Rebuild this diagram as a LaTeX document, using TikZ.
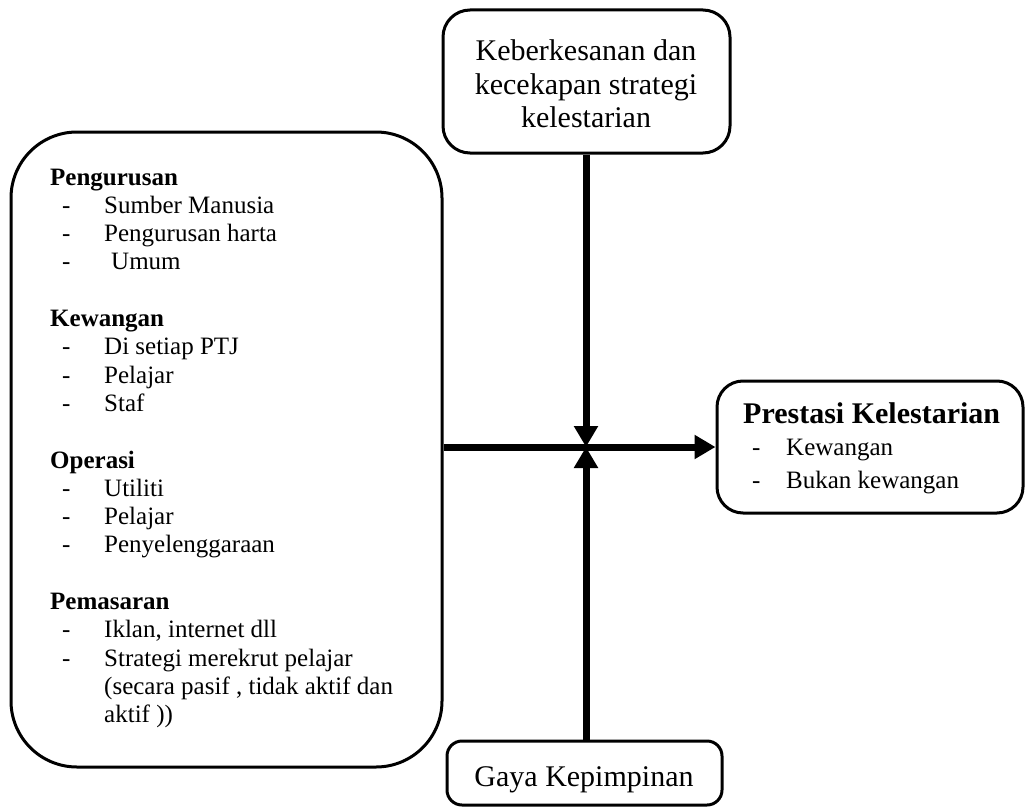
\documentclass[tikz,border=0pt]{standalone}
\usepackage{fontspec}
\setmainfont{Liberation Serif}
\usetikzlibrary{arrows.meta}
\begin{document}
\begin{tikzpicture}[x=1pt,y=-1pt,
  box/.style={draw, line width=3pt, inner sep=0pt, rectangle},
  link/.style={line width=7pt, -{Triangle[length=21pt,width=23pt]}},
  txt/.style={anchor=base west, inner sep=0pt, font=\fontsize{25}{28}\selectfont},
  head/.style={txt, font=\fontsize{25}{28}\selectfont\bfseries},
  big/.style={anchor=base, inner sep=0pt, font=\fontsize{30}{33}\selectfont}]
\useasboundingbox (0,0) rectangle (1025,808);

% boxes
\node[box, rounded corners=27pt, minimum width=287pt, minimum height=143pt] (top) at (586.5,81.5) {};
\node[box, rounded corners=66pt, minimum width=431pt, minimum height=635pt] (lbox) at (226.5,449.5) {};
\node[box, rounded corners=26pt, minimum width=306pt, minimum height=132pt] (rbox) at (870,447) {};
\node[box, rounded corners=15pt, minimum width=275pt, minimum height=64pt] (bot) at (584.5,773) {};

% top box text
\node[big] (t1) at (586,61) {Keberkesanan dan};
\node[big] (t2) at (586,94) {kecekapan strategi};
\node[big] (t3) at (586,127) {kelestarian};

% bottom box text
\node[big] (b1) at (584,786) {Gaya Kepimpinan};

% right box text
\node[anchor=base west, inner sep=0pt, font=\fontsize{30}{33}\selectfont\bfseries] (r0) at (743,423) {Prestasi Kelestarian};
\node[txt] (rd1) at (752,455) {-};
\node[txt] (r1) at (786,455) {Kewangan};
\node[txt] (rd2) at (752,488) {-};
\node[txt] (r2) at (786,488) {Bukan kewangan};

% left box text
\node[head] (h1) at (50,185) {Pengurusan};
\node[txt] (d1) at (62,213.3) {-};
\node[txt] (i1) at (104,213.3) {Sumber Manusia};
\node[txt] (d2) at (62,241.6) {-};
\node[txt] (i2) at (104,241.6) {Pengurusan harta};
\node[txt] (d3) at (62,269.9) {-};
\node[txt] (i3) at (111,269.9) {Umum};

\node[head] (h2) at (50,326.5) {Kewangan};
\node[txt] (d4) at (62,354.8) {-};
\node[txt] (i4) at (104,354.8) {Di setiap PTJ};
\node[txt] (d5) at (62,383.1) {-};
\node[txt] (i5) at (104,383.1) {Pelajar};
\node[txt] (d6) at (62,411.4) {-};
\node[txt] (i6) at (104,411.4) {Staf};

\node[head] (h3) at (50,468) {Operasi};
\node[txt] (d7) at (62,496.3) {-};
\node[txt] (i7) at (104,496.3) {Utiliti};
\node[txt] (d8) at (62,524.6) {-};
\node[txt] (i8) at (104,524.6) {Pelajar};
\node[txt] (d9) at (62,552.9) {-};
\node[txt] (i9) at (104,552.9) {Penyelenggaraan};

\node[head] (h4) at (50,609.5) {Pemasaran};
\node[txt] (d10) at (62,637.8) {-};
\node[txt] (i10) at (104,637.8) {Iklan, internet dll};
\node[txt] (d11) at (62,666.1) {-};
\node[txt] (i11) at (104,666.1) {Strategi merekrut pelajar};
\node[txt] (i12) at (104,694.4) {(secara pasif , tidak aktif dan};
\node[txt] (i13) at (104,722.7) {aktif ))};

% connectors
\coordinate (mid) at (586,447);
\draw[link] (mid |- top.south) -- (mid);
\draw[link] (mid |- bot.north) -- (mid);
\draw[link] (lbox.east |- mid) -- (rbox.west);
\end{tikzpicture}
\end{document}
